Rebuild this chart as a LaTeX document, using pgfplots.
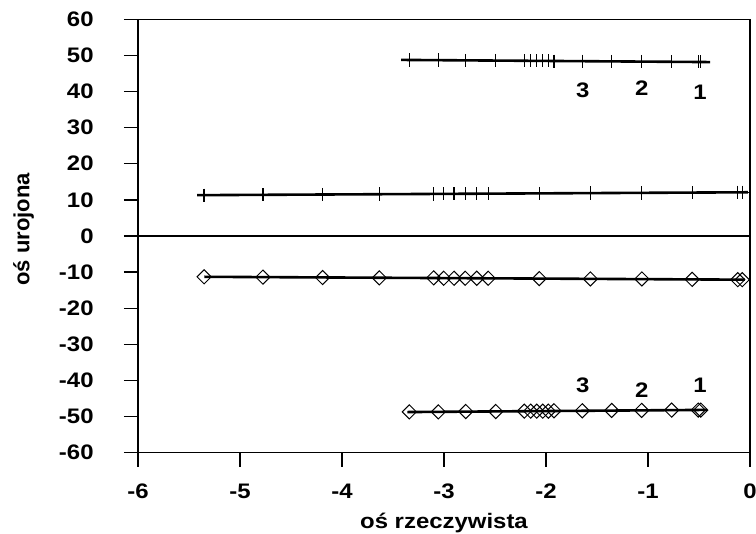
\documentclass[border=0pt]{standalone}
\usepackage{fontspec}
\setmainfont{Liberation Sans}[FakeStretch=1.14]
\newfontfamily\ylabfont{Liberation Sans}
\usepackage{pgfplots}
\pgfplotsset{compat=1.18}
\usepackage{pgfplotstable}

% roots: upper pair (+) and lower pair (diamonds)
\pgfplotstableread{
x       y
-3.340  48.7
-3.056  48.7
-2.787  48.6
-2.493  48.6
-2.213  48.5
-2.150  48.5
-2.091  48.5
-2.032  48.5
-1.977  48.5
-1.922  48.4
-1.644  48.4
-1.356  48.3
-1.062  48.3
-0.768  48.2
-0.507  48.2
-0.483  48.2
}\rootsA
\pgfplotstableread{
x       y
-5.352  11.3
-4.775  11.4
-4.190  11.5
-3.634  11.6
-3.101  11.6
-3.003  11.7
-2.901  11.7
-2.792  11.7
-2.679  11.7
-2.567  11.7
-2.066  11.8
-1.565  11.9
-1.060  11.9
-0.567  12.0
-0.120  12.1
-0.076  12.1
}\rootsB
\pgfplotstableread{
x       y
-5.352  -11.3
-4.775  -11.4
-4.190  -11.5
-3.634  -11.6
-3.101  -11.6
-3.003  -11.7
-2.901  -11.7
-2.792  -11.7
-2.679  -11.7
-2.567  -11.7
-2.066  -11.8
-1.565  -11.9
-1.060  -11.9
-0.567  -12.0
-0.120  -12.1
-0.076  -12.1
}\rootsC
\pgfplotstableread{
x       y
-3.340  -48.7
-3.056  -48.7
-2.787  -48.6
-2.493  -48.6
-2.213  -48.5
-2.150  -48.5
-2.091  -48.5
-2.032  -48.5
-1.977  -48.5
-1.922  -48.4
-1.644  -48.4
-1.356  -48.3
-1.062  -48.3
-0.768  -48.2
-0.507  -48.2
-0.483  -48.2
}\rootsD

\begin{document}
\begin{tikzpicture}[font=\bfseries\fontsize{10.5}{12}\selectfont]
\begin{axis}[
  scale only axis,
  width=306pt, height=216.7pt,
  xmin=-6, xmax=0, ymin=-60, ymax=60,
  xtick={-6,-5,-4,-3,-2,-1,0},
  xticklabels={-6,-5,-4,-3,-2,-1,0},
  ytick={-60,-50,-40,-30,-20,-10,0,10,20,30,40,50,60},
  yticklabels={-60,-50,-40,-30,-20,-10,0,10,20,30,40,50,60},
  tick pos=left,
  tick align=outside,
  major tick length=7pt,
  tick style={black, line width=0.7pt},
  axis line style={line width=0.7pt},
  xticklabel style={anchor=center, yshift=-12.2pt, inner sep=0pt},
  yticklabel style={anchor=east, xshift=-15pt, inner sep=0pt},
  xlabel={oś rzeczywista},
  ylabel={\ylabfont\fontsize{11}{13}\selectfont oś urojona},
  xlabel style={at={(axis description cs:0.5,-0.175)}, anchor=base, inner sep=0pt},
  ylabel style={at={(axis description cs:-0.187,0.515)}, anchor=center, inner sep=0pt},
  clip=false,
]
% zero line
\addplot[black, line width=0.7pt] coordinates {(-6,0) (0,0)};
% markers
\addplot[only marks, mark=+, mark size=3.3pt, mark options={line width=0.6pt}] table {\rootsA};
\addplot[only marks, mark=+, mark size=3.3pt, mark options={line width=0.6pt}] table {\rootsB};
\addplot[only marks, mark=square, mark size=2.5pt, mark options={rotate=45, line width=0.5pt}] table {\rootsC};
\addplot[only marks, mark=square, mark size=2.5pt, mark options={rotate=45, line width=0.5pt}] table {\rootsD};
% lines through the roots
\addplot[black, line width=1.3pt] coordinates {(-3.42,48.75) (-0.39,48.15)};
\addplot[black, line width=1.3pt] coordinates {(-5.42,11.3) (-0.02,12.1)};
\addplot[black, line width=1.3pt] coordinates {(-5.35,-11.3) (-0.05,-12.1)};
\addplot[black, line width=1.3pt] coordinates {(-3.36,-48.75) (-0.42,-48.15)};
% numbers of the roots
\node at (axis cs:-1.64,40.3) {3};
\node at (axis cs:-1.06,40.9) {2};
\node at (axis cs:-0.49,39.7) {1};
\node at (axis cs:-1.64,-41.3) {3};
\node at (axis cs:-1.06,-42.6) {2};
\node at (axis cs:-0.49,-41.3) {1};
\end{axis}
\pgfresetboundingbox
\path[use as bounding box] (-69pt,-40.2pt) rectangle (309pt,226.35pt);
\end{tikzpicture}
\end{document}
